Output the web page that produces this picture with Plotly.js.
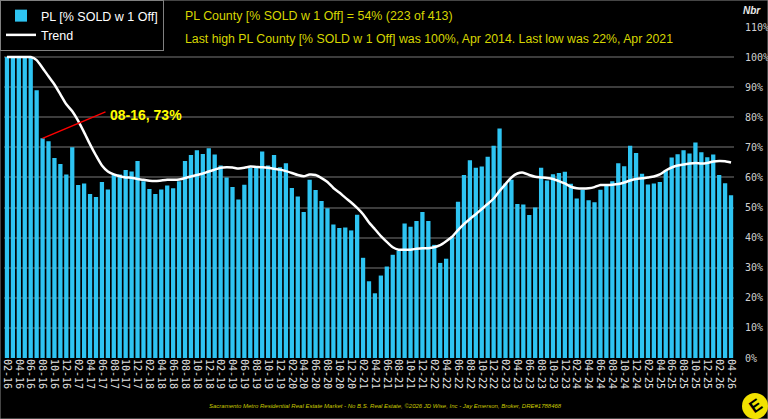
<!DOCTYPE html>
<html>
<head>
<meta charset="utf-8">
<script src="https://cdn.plot.ly/plotly-3.0.1.min.js"></script>
<style>
html,body{margin:0;padding:0;background:#000;}
#chart{width:768px;height:419px;}
</style>
</head>
<body>
<div id="chart"></div>
<script>
// Month labels (MM-YY), Feb 2016 .. Apr 2026
const startYear = 2016, startMonth = 2, monthCount = 123;
const months = [];
for (let i = 0; i < monthCount; i++) {
  const m = (startMonth - 1 + i) % 12 + 1;
  const y = startYear + Math.floor((startMonth - 1 + i) / 12);
  months.push(String(m).padStart(2, '0') + '-' + String(y % 100).padStart(2, '0'));
}

// % SOLD w 1 Off (monthly)
const pctSold = [
  100,100,100,100,100,89,73,72,66.5,64.5,
  61,70,57.5,58,54.5,53.5,58.5,56,61,61,
  62.5,62,65.5,58.7,56.2,54.5,56,57.3,56.4,58.7,
  65.5,67.5,69,67.8,69.7,67.6,64,60,56.8,52.7,
  57.6,63.2,63.3,68.6,64,67.5,63.4,64.7,56.5,53.7,
  48.5,59.2,55.8,52.2,49.8,44.4,43.2,43.4,42.4,47.6,
  33.3,25.5,21.5,27.4,30.4,34.3,35.7,44.7,43.6,45.5,
  48.5,45.5,37.6,31.6,33,40.3,51.9,60.8,65.7,63.2,
  63.6,66.9,70.5,76.3,58,59.2,51.2,51,47.5,50,
  63.2,59,61.1,61.5,61.9,57.9,53,55.9,52.4,51.8,
  55.9,57.3,58.7,64.7,63.7,70.5,68.1,61.2,57.7,58,
  58.5,62.3,66.6,67.7,69,68,71.6,68.4,66.7,67.6,
  60.8,58.1,54.1
];

// Trend line (monthly)
const trend = [
  100,100,100,100,100,99,96.4,93.6,90.9,87.6,
  84.3,82,78.8,75,71,67.3,64,62,61,60.4,
  60,59.9,59.5,59.2,58.9,58.8,59,59.2,59.2,59.3,
  59.8,60.3,60.8,61.3,62,62.6,63.2,63.4,63.3,63,
  63.2,63.6,63.5,63.4,63.2,62.9,62.6,62.1,61.5,60.8,
  60.4,61,60.8,59.8,58.5,56.5,55,53.3,51.7,49.9,
  47.8,45,42.8,40.5,38.6,36.8,36,36,36,36.3,
  36.5,36.5,36.8,37.5,38.8,40.3,42.5,44.5,46.2,47.8,
  49.5,51.2,53,55.5,57.8,60,61.3,61.6,60.8,60.2,
  60,59.8,59.5,58.8,58,56.9,56.4,56.3,56.4,56.8,
  57.5,57.5,57.6,57.8,58.3,59,59.5,59.7,60,60.3,
  61,62.3,63.3,64,64.3,64.6,64.8,64.6,64.8,65.3,
  65.5,65.4,65
];

const yTicks = [0,10,20,30,40,50,60,70,80,90,100,110];
const yTickText = yTicks.map(v => v + '%');

const idx = months.map((_, i) => i);
const tickIdx = idx.filter(i => i % 2 === 0);
const tickLabels = tickIdx.map(i => months[i]);

const calloutIdx = 6;

// pixel helpers for paper placement (plot area: x 4..734, y 27..358)
const L = 4, PW = 730, T = 27, PH = 331;
const px = v => (v - L) / PW;
const py = v => (T + PH - v) / PH;

const traces = [
  {
    type: 'bar', name: 'PL [% SOLD w 1 Off]',
    x: idx, y: pctSold, customdata: months,
    marker: {color: '#2ec4f2', line: {width: 0}},
    hovertemplate: '%{customdata}: %{y}%<extra></extra>'
  },
  {
    type: 'scatter', mode: 'lines', name: 'Trend',
    x: idx, y: trend, customdata: months,
    line: {color: '#ffffff', width: 2.5, shape: 'spline', smoothing: 0.6},
    hovertemplate: '%{customdata}: %{y}%<extra></extra>'
  }
];

const layout = {
  width: 768, height: 419,
  paper_bgcolor: '#000', plot_bgcolor: '#000',
  margin: {l: L, r: 768 - L - PW, t: T, b: 419 - T - PH, pad: 0, autoexpand: false},
  bargap: 0.28,
  showlegend: true,
  legend: {
    x: px(0), y: py(0), xanchor: 'left', yanchor: 'top',
    bgcolor: '#000', bordercolor: '#808080', borderwidth: 1,
    font: {family: 'Liberation Sans, Arial, sans-serif', size: 12.5, color: '#ffffff'},
    tracegroupgap: 0, itemwidth: 30
  },
  xaxis: {
    type: 'linear', range: [-0.5, monthCount - 0.5], automargin: false,
    tickmode: 'array', tickvals: tickIdx, ticktext: tickLabels,
    tickangle: 90, ticks: '', showgrid: false, zeroline: false, showline: false,
    tickfont: {family: 'DejaVu Sans Mono, monospace', size: 10, color: '#e0e0e0'}
  },
  yaxis: {
    side: 'right', range: [0, 110], automargin: false,
    tickmode: 'array', tickvals: yTicks, ticktext: yTickText,
    showgrid: true, gridcolor: '#3c3c3c', gridwidth: 1.5, zeroline: false,
    ticks: 'outside', ticklen: 8, tickcolor: 'rgba(0,0,0,0)',
    tickfont: {family: 'DejaVu Sans Mono, monospace', size: 10, color: '#d0d0d0'}
  },
  shapes: [
    {type: 'line', xref: 'x', yref: 'y', x0: calloutIdx, y0: pctSold[calloutIdx], x1: 16.6, y1: 81.8,
     line: {color: '#ff0000', width: 1.5}},
    {type: 'rect', xref: 'paper', yref: 'paper', x0: px(0), x1: px(768), y0: py(419), y1: py(0),
     line: {color: '#8a8a8a', width: 1}, fillcolor: 'rgba(0,0,0,0)'},
    {type: 'circle', xref: 'paper', yref: 'paper', x0: px(742), x1: px(768), y0: py(419), y1: py(393),
     line: {width: 0}, fillcolor: '#f2e200'}
  ],
  annotations: [
    {xref: 'x', yref: 'y', x: 17.1, y: 80.8, xanchor: 'left', yanchor: 'middle', showarrow: false,
     text: '<b>' + months[calloutIdx] + ', ' + Math.round(pctSold[calloutIdx]) + '%</b>',
     font: {family: 'Liberation Sans, Arial, sans-serif', size: 14, color: '#ffff00'}},
    {xref: 'paper', yref: 'paper', x: px(183), y: py(15.7), xanchor: 'left', yanchor: 'middle', showarrow: false,
     text: 'PL County [% SOLD w 1 Off] = 54% (223 of 413)',
     font: {family: 'Liberation Sans, Arial, sans-serif', size: 12.4, color: '#d6d600'}},
    {xref: 'paper', yref: 'paper', x: px(183), y: py(39), xanchor: 'left', yanchor: 'middle', showarrow: false,
     text: 'Last high PL County [% SOLD w 1 Off] was 100%, Apr 2014. Last low was 22%, Apr 2021',
     font: {family: 'Liberation Sans, Arial, sans-serif', size: 12.3, color: '#d6d600'}},
    {xref: 'paper', yref: 'paper', x: px(752), y: py(10), xanchor: 'center', yanchor: 'middle', showarrow: false,
     text: '<b><i>Nbr</i></b>',
     font: {family: 'Liberation Sans, Arial, sans-serif', size: 10, color: '#e8e8e8'}},
    {xref: 'paper', yref: 'paper', x: px(385), y: py(406), xanchor: 'center', yanchor: 'middle', showarrow: false,
     text: '<i>Sacramento Metro Residential Real Estate Market - No B.S. Real Estate, ©2026 JD Wise, Inc - Jay Emerson, Broker, DRE#1788468</i>',
     font: {family: 'Liberation Sans, Arial, sans-serif', size: 6, color: '#c8c800'}},
    {xref: 'paper', yref: 'paper', x: px(755), y: py(406), xanchor: 'center', yanchor: 'middle', showarrow: false,
     text: '<b>E</b>', textangle: -35,
     font: {family: 'Liberation Sans, Arial, sans-serif', size: 17, color: '#000'}}
  ]
};

Plotly.newPlot('chart', traces, layout, {displayModeBar: false, responsive: false});
</script>
</body>
</html>
